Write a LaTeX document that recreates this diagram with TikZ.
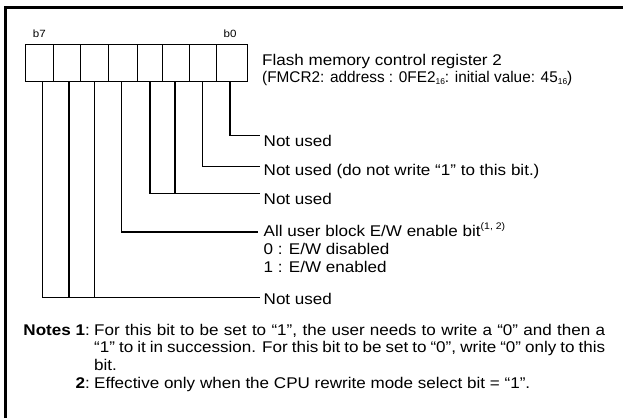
\documentclass[tikz,border=0pt]{standalone}
\usepackage{fontspec}
\setmainfont{Liberation Sans}[FakeStretch=1.10]
\newfontfamily\narrowfont{Liberation Sans}[FakeStretch=0.99]
\newcommand{\sbs}[1]{\raisebox{-0.1em}{\fontsize{8.5}{9}\selectfont #1}}
\newcommand{\sps}[1]{\raisebox{0.42em}{\fontsize{9.5}{10}\selectfont #1}}
\begin{document}
\begin{tikzpicture}[x=1pt,y=-1pt,
  cell/.style={draw, line width=1.4pt, minimum height=37pt, inner sep=0pt, anchor=north west},
  wire/.style={line width=1.3pt},
  lbl/.style={inner sep=0pt, anchor=base west, font=\fontsize{15.5}{18}\selectfont},
  notepar/.style={inner sep=0pt, anchor=north west, text width=511pt, align=justify,
    font=\fontsize{15.5}{17.75}\selectfont},
  bitlbl/.style={inner sep=0pt, anchor=base, font=\fontsize{10.5}{12}\selectfont},
  frame/.style={line width=3pt}]
\useasboundingbox (0,0) rectangle (623,418);
% frame (top and left edges only)
\draw[frame] (5.3,418) -- (5.3,7.5) -- (623,7.5);
% register cells b7..b0
\node[cell, minimum width=27.5pt] (c7) at (25,44) {};
\node[cell, minimum width=27.5pt] (c6) at (52.5,44) {};
\node[cell, minimum width=28pt]   (c5) at (80,44) {};
\node[cell, minimum width=29pt]   (c4) at (108,44) {};
\node[cell, minimum width=24.5pt] (c3) at (137,44) {};
\node[cell, minimum width=27.5pt] (c2) at (161.5,44) {};
\node[cell, minimum width=27pt]   (c1) at (189,44) {};
\node[cell, minimum width=31pt]   (c0) at (216,44) {};
\node[bitlbl] (b7) at (39.3,37.7) {b7};
\node[bitlbl] (b0) at (230,37.7) {b0};
% title
\node[lbl] (title1) at (262,65) {Flash memory control register 2};
\node[lbl] (title2) at (262,82.5) {\narrowfont (FMCR2: address : 0FE2\sbs{16}: initial value: 45\sbs{16})};
% connector end points
\coordinate (e0) at (260,135.7);
\coordinate (e1) at (260,166.7);
\coordinate (e23) at (260,193.3);
\coordinate (e4) at (258,232);
\coordinate (e567) at (260,297.3);
% connectors
\draw[wire] ([xshift=-2.2pt]c0.south) |- (e0);
\draw[wire] ([xshift=-0.5pt]c1.south) |- (e1);
\draw[wire] ([xshift=-1pt]c2.south) |- (e23);
\draw[wire] (c3.south) |- (e23);
\draw[wire] ([xshift=-1.8pt]c4.south) |- (e4);
\draw[wire] ([xshift=-0.5pt]c5.south) |- (e567);
\draw[wire] ([xshift=2pt]c6.south) |- (e567);
\draw[wire] ([xshift=3pt]c7.south) |- (e567);
% bit descriptions
\node[lbl] (t0) at (263.5,146) {Not used};
\node[lbl] (t1) at (263.5,175) {Not used (do not write “1” to this bit.)};
\node[lbl] (t23) at (263.5,204) {Not used};
\node[lbl] (t4) at (263.5,236.5) {All user block E/W enable bit\sps{(1, 2)}};
\node[lbl] (t4a) at (263.5,254.5) {0 : E/W disabled};
\node[lbl] (t4b) at (263.5,272.7) {1 : E/W enabled};
\node[lbl] (t567) at (263.5,304) {Not used};
% notes
\node[lbl, anchor=base east] (n1) at (90,335) {\textbf{Notes 1}:};
\node[notepar] (n1a) at (94,323.7) {For this bit to be set to “1”, the user needs to write a “0” and then a\linebreak
“1” to it in succession. For this bit to be set to “0”, write “0” only to this\linebreak
bit.};
\node[lbl, anchor=base east] (n2) at (90,388) {\textbf{2}:};
\node[lbl] (n2a) at (94,388) {Effective only when the CPU rewrite mode select bit = “1”.};
\end{tikzpicture}
\end{document}
